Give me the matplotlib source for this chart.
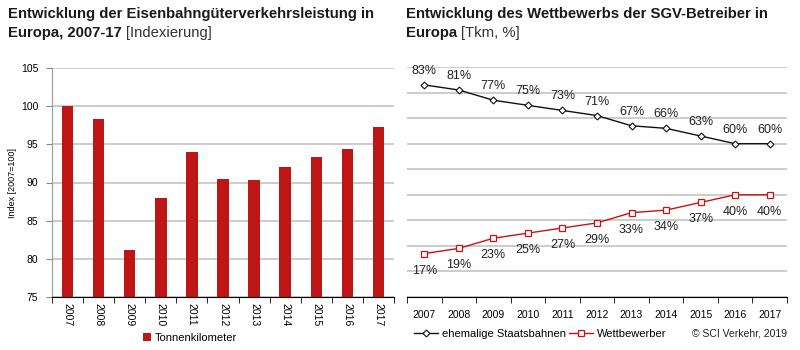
import matplotlib.pyplot as plt
from matplotlib.ticker import MultipleLocator, FixedLocator

plt.rcParams['font.family'] = ['Liberation Sans', 'DejaVu Sans']

years = ['2007', '2008', '2009', '2010', '2011', '2012', '2013', '2014', '2015', '2016', '2017']
index_tkm = [100, 98.3, 81.2, 88.0, 94.0, 90.5, 90.3, 92.0, 93.3, 94.4, 97.3]
staatsbahnen = [83, 81, 77, 75, 73, 71, 67, 66, 63, 60, 60]
wettbewerber = [17, 19, 23, 25, 27, 29, 33, 34, 37, 40, 40]

bar_red = '#BE1515'
line_red = '#CC1111'
grid_grey = '#C8C8C8'

fig = plt.figure(figsize=(8, 3.5), dpi=100)


def two_part_title(x, line1, bold2, normal2):
    fig.text(x, 1 - 18 / 350, line1, fontsize=10.7, fontweight='bold', color='#1a1a1a', va='baseline')
    t = fig.text(x, 1 - 37 / 350, bold2, fontsize=10.7, fontweight='bold', color='#1a1a1a', va='baseline')
    fig.canvas.draw()
    bb = t.get_window_extent()
    fig.text((bb.x1 + 4) / fig.bbox.width, 1 - 37 / 350, normal2, fontsize=10.7, color='#333333', va='baseline')


two_part_title(8 / 800, 'Entwicklung der Eisenbahngüterverkehrsleistung in', 'Europa, 2007-17', '[Indexierung]')
two_part_title(406 / 800, 'Entwicklung des Wettbewerbs der SGV-Betreiber in', 'Europa', '[Tkm, %]')

# left: bars
ax1 = fig.add_axes([52 / 800, 53 / 350, 342 / 800, 229 / 350])
x = list(range(len(years)))
ax1.bar(x, index_tkm, width=0.37, color=bar_red, zorder=3, label='Tonnenkilometer')
ax1.set_ylim(75, 105)
ax1.set_xlim(-0.5, len(years) - 0.5)
ax1.yaxis.set_major_locator(MultipleLocator(5))
ax1.grid(axis='y', color=grid_grey, linewidth=1.3, zorder=0)
ax1.set_xticks(x)
ax1.set_xticklabels(years, rotation=-90, fontsize=7.5)
ax1.xaxis.set_minor_locator(FixedLocator([i - 0.5 for i in range(len(years) + 1)]))
ax1.tick_params(axis='x', which='major', length=0, pad=4)
ax1.tick_params(axis='x', which='minor', length=4, direction='out', color='black')
ax1.tick_params(axis='y', labelsize=7.5, length=4, color='#888888', pad=6)
for s in ['top', 'right']:
    ax1.spines[s].set_visible(False)
ax1.spines['left'].set_color('#999999')
ax1.spines['bottom'].set_color('black')
ax1.spines['bottom'].set_zorder(4)
ax1.set_ylabel('Index [2007=100]', fontsize=6.5, labelpad=3)
ax1.legend(loc='center', bbox_to_anchor=(190 / 800, 1 - 338 / 350), bbox_transform=fig.transFigure,
           frameon=False, fontsize=8, handlelength=0.7, handleheight=0.7, handletextpad=0.4)

# right: lines
ax2 = fig.add_axes([407 / 800, 53 / 350, 380 / 800, 230 / 350])
ax2.plot(x, staatsbahnen, color='#111111', linewidth=1, marker='D', markersize=3.5,
         markerfacecolor='white', markeredgecolor='#111111', markeredgewidth=0.8,
         label='ehemalige Staatsbahnen', zorder=3)
ax2.plot(x, wettbewerber, color=line_red, linewidth=1, marker='s', markersize=4.5,
         markerfacecolor='white', markeredgecolor=line_red, markeredgewidth=0.9,
         label='Wettbewerber', zorder=3)
for i in x:
    ax2.annotate(f'{staatsbahnen[i]}%', (i, staatsbahnen[i]), xytext=(0, 14), textcoords='offset pixels',
                 ha='center', va='center', fontsize=9, color='#222222')
    ax2.annotate(f'{wettbewerber[i]}%', (i, wettbewerber[i]), xytext=(0, -17), textcoords='offset pixels',
                 ha='center', va='center', fontsize=9, color='#222222')
ax2.set_ylim(0, 90)
ax2.set_xlim(-0.5, len(years) - 0.5)
ax2.yaxis.set_major_locator(MultipleLocator(10))
ax2.grid(axis='y', color=grid_grey, linewidth=1.3, zorder=0)
ax2.tick_params(axis='y', length=0, labelleft=False)
ax2.set_xticks(x)
ax2.set_xticklabels(years, fontsize=7.5)
ax2.xaxis.set_minor_locator(FixedLocator([i - 0.5 for i in range(len(years) + 1)]))
ax2.tick_params(axis='x', which='major', length=0, pad=9)
ax2.tick_params(axis='x', which='minor', length=4, direction='out', color='black')
for s in ['top', 'right', 'left']:
    ax2.spines[s].set_visible(False)
ax2.spines['bottom'].set_color('black')
ax2.legend(loc='center', ncol=2, bbox_to_anchor=(540 / 800, 1 - 334 / 350), bbox_transform=fig.transFigure,
           frameon=False, fontsize=8, handlelength=2.2, handletextpad=0.3, columnspacing=0.3)
fig.text(787 / 800, 1 - 334 / 350, '© SCI Verkehr, 2019', fontsize=7.5, ha='right', va='center', color='#222222')

fig.savefig('out.png', dpi=100)
